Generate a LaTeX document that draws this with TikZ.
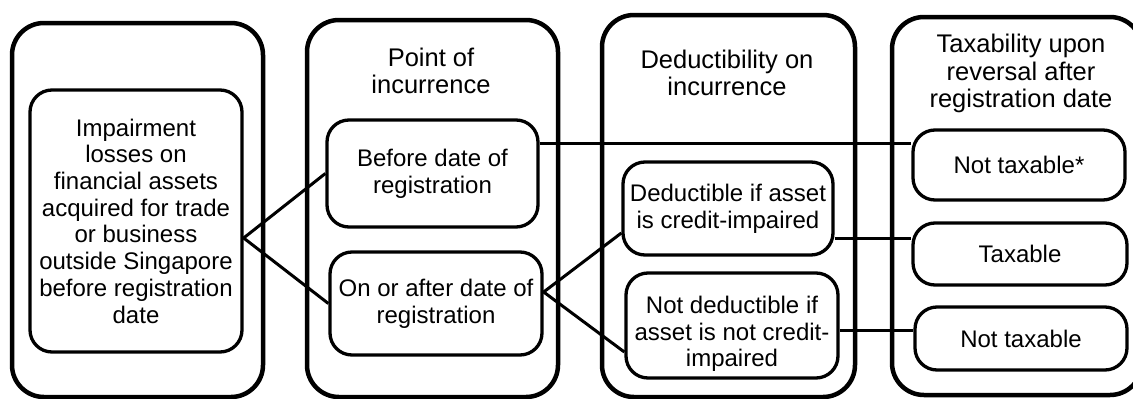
\documentclass[tikz,border=0pt]{standalone}
\usepackage{fontspec}
\setmainfont{Liberation Sans}
\newcommand\bodyfont{\fontsize{24}{26.7}\selectfont}
\newcommand\headfont{\fontsize{25.5}{27.5}\selectfont}
\begin{document}
\begin{tikzpicture}[x=1pt,y=-1pt,line join=round,
  outerbox/.style={draw, line width=4.5pt, rounded corners=32pt, inner sep=0pt},
  ibox/.style={draw, line width=3.3pt, rounded corners=22pt, fill=white, align=center, inner sep=0pt, font=\bodyfont},
  txt/.style={align=center, inner sep=0pt, font=\bodyfont},
  head/.style={align=center, inner sep=0pt, font=\headfont},
  conn/.style={line width=3pt}]
\useasboundingbox (0,0) rectangle (1133,399);
\clip (0,0) rectangle (1133,399);
% columns
\node[outerbox, minimum width=251, minimum height=374] (c1) at (137.5,210) {};
\node[outerbox, minimum width=251, minimum height=377] (c2) at (432.5,208.5) {};
\node[outerbox, minimum width=253, minimum height=382] (c3) at (728.5,206) {};
\node[outerbox, minimum width=250, minimum height=378] (c4) at (1017,206) {};
% headers
\node[head] (h2) at (431,71) {Point of\\incurrence};
\node[head] (h3) at (727,73) {Deductibility on\\incurrence};
\node[head] (h4) at (1021,73.5) {Taxability upon\\reversal after\\registration date};
% inner boxes
\node[ibox, minimum width=212, minimum height=262] (imp) at (136,221)
  {Impairment\\losses on\\financial assets\\acquired for trade\\or business\\outside Singapore\\before registration\\date};
\node[ibox, minimum width=211, minimum height=107] (before) at (432.5,173.5) {Before date of\\registration};
\node[ibox, minimum width=212, minimum height=103] (onafter) at (436,303.5) {On or after date of\\registration};
\node[ibox, minimum width=210, minimum height=93] (ded) at (728,208.5) {Deductible if asset\\is credit-impaired};
\node[ibox, minimum width=212, minimum height=105] (nded) at (732,325.5) {};
\node[txt] (ndedtxt) at (732,334) {Not deductible if\\asset is not credit-\\impaired};
\node[ibox, minimum width=212, minimum height=70] (nt1) at (1019,165) {Not taxable*};
\node[ibox, minimum width=214, minimum height=62] (tax) at (1020,254) {Taxable};
\node[ibox, minimum width=212, minimum height=63] (nt2) at (1021,338.5) {Not taxable};
% connectors
\coordinate (v1) at ([yshift=-17pt]imp.east);
\draw[conn] (before.west) -- (v1) -- (onafter.west);
\coordinate (v2) at ([yshift=11.5pt]onafter.east);
\draw[conn] ([yshift=-24.5pt]ded.west) -- (v2) -- ([yshift=-26.5pt]nded.west);
\draw[conn] ([yshift=30.5pt]before.east) -- ([yshift=30.5pt]before.east -| nt1.west);
\draw[conn] ([yshift=-29.5pt]ded.east) -- ([yshift=-29.5pt]ded.east -| tax.west);
\draw[conn] ([yshift=-4.5pt]nded.east) -- ([yshift=-4.5pt]nded.east -| nt2.west);
\end{tikzpicture}
\end{document}
